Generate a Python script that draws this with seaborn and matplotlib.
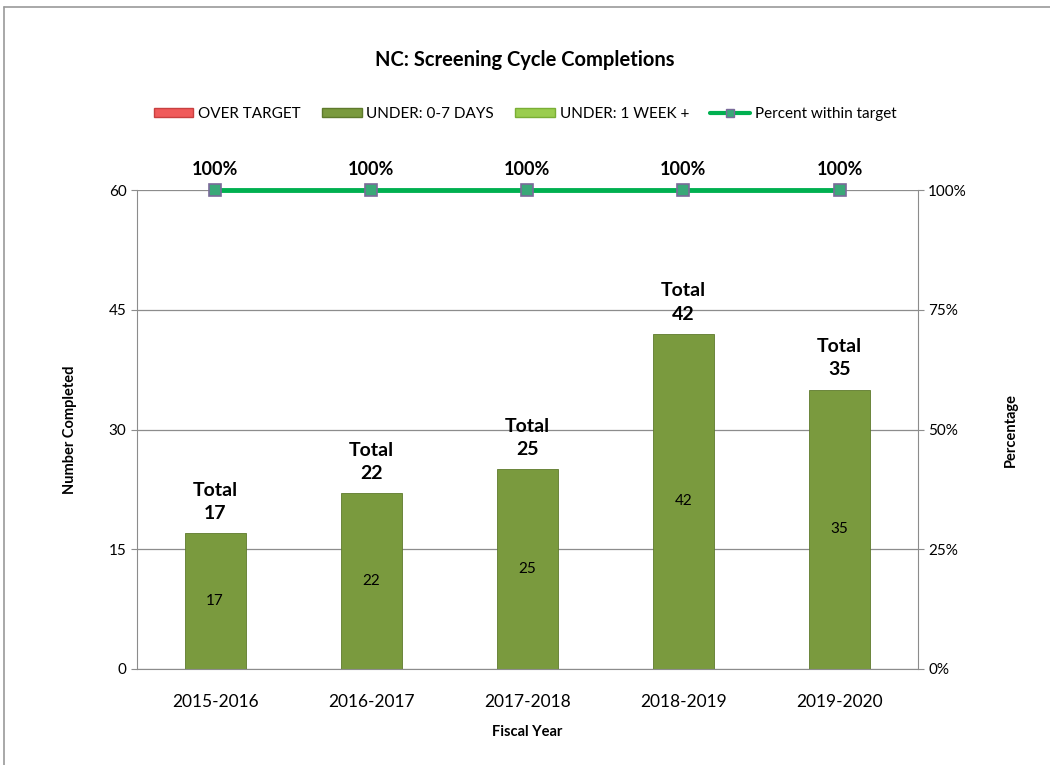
import pandas as pd
import matplotlib.pyplot as plt
import seaborn as sns
from matplotlib.patches import Patch
from matplotlib.lines import Line2D

# Datos
years = ['2015-2016', '2016-2017', '2017-2018', '2018-2019', '2019-2020']
over_target = [0, 0, 0, 0, 0]
under_0_7 = [17, 22, 25, 42, 35]
under_1_week = [0, 0, 0, 0, 0]
pct_within = [100, 100, 100, 100, 100]

df = pd.DataFrame({'Fiscal Year': years, 'Under07': under_0_7,
                   'Total': [a + b + c for a, b, c in zip(over_target, under_0_7, under_1_week)],
                   'Pct': pct_within})

sns.set_style('white')
plt.rcParams['font.family'] = ['Lato', 'DejaVu Sans']
plt.rcParams['text.color'] = 'black'
plt.rcParams['axes.labelcolor'] = 'black'
plt.rcParams['xtick.color'] = 'black'
plt.rcParams['ytick.color'] = 'black'

c_over = '#F05A5A'
c_under = '#7A9A3E'
c_week = '#9ACD4E'
c_line = '#00B050'

fig = plt.figure(figsize=(10.5, 7.65), dpi=100)
ax = fig.add_axes([0.1305, 0.1255, 0.7435, 0.6261])

sns.barplot(data=df, x='Fiscal Year', y='Under07', color=c_under, width=0.39,
            edgecolor='#5E7A2C', linewidth=0.6, saturation=1, ax=ax)

ax.set_ylim(0, 60)
ax.set_yticks([0, 15, 30, 45, 60])
ax.yaxis.grid(True, color='#8C8C8C', linewidth=0.9)
ax.set_axisbelow(True)
for s in ['top', 'right']:
    ax.spines[s].set_visible(False)
ax.spines['left'].set_color('#8C8C8C')
ax.spines['bottom'].set_color('#8C8C8C')
ax.tick_params(axis='x', labelsize=12.5, length=0, pad=18, labelcolor='black')
ax.tick_params(axis='y', labelsize=11, length=4, color='#8C8C8C', left=True,
               labelcolor='black')
ax.set_xlabel('Fiscal Year', fontsize=10.5, fontweight='bold', labelpad=11)
ax.set_ylabel('Number Completed', fontsize=10.5, fontweight='bold', labelpad=23)

# Etiquetas dentro de las barras y totales
for i, (v, t) in enumerate(zip(df['Under07'], df['Total'])):
    ax.text(i, v / 2, str(v), ha='center', va='center', fontsize=11)
    ax.text(i, t + 1.4, f'Total\n{t}', ha='center', va='bottom', fontsize=14,
            fontweight='bold', linespacing=1.45)

# Eje secundario: porcentaje
ax2 = ax.twinx()
sns.lineplot(x=list(range(len(years))), y=df['Pct'], color=c_line, linewidth=3.5,
             marker='s', markersize=8, markerfacecolor='#3AA878',
             markeredgecolor='#7A6A9A', markeredgewidth=1.2, ax=ax2)
for ln in ax2.lines:
    ln.set_clip_on(False)
    ln.set_zorder(5)
ax2.set_ylim(0, 100)
ax2.set_yticks([0, 25, 50, 75, 100])
ax2.set_yticklabels([f'{v}%' for v in [0, 25, 50, 75, 100]])
ax2.tick_params(axis='y', labelsize=11, length=4, color='#8C8C8C', right=True,
                labelcolor='black')
ax2.set_ylabel('Percentage', fontsize=10.5, fontweight='bold', labelpad=27)
ax2.spines['right'].set_color('#8C8C8C')
for s in ['top', 'left', 'bottom']:
    ax2.spines[s].set_visible(False)
ax2.set_xlim(-0.5, len(years) - 0.5)
for i, p in enumerate(df['Pct']):
    ax2.text(i, p + 2.6, f'{p}%', ha='center', va='bottom', fontsize=13, fontweight='bold')

fig.text(0.5, 0.921, 'NC: Screening Cycle Completions', ha='center', va='center',
         fontsize=14.5, fontweight='bold')

handles = [Patch(facecolor=c_over, edgecolor='#C84040'),
           Patch(facecolor=c_under, edgecolor='#5E7A2C'),
           Patch(facecolor=c_week, edgecolor='#7AAE35'),
           Line2D([0], [0], color=c_line, linewidth=3, marker='s', markersize=6,
                  markerfacecolor='#3AA878', markeredgecolor='#7A6A9A')]
labels = ['OVER TARGET', 'UNDER: 0-7 DAYS', 'UNDER: 1 WEEK +', 'Percent within target']
fig.legend(handles, labels, loc='center', bbox_to_anchor=(0.5, 0.851), ncol=4,
           frameon=False, fontsize=11, handlelength=2.6, handleheight=0.6,
           handletextpad=0.3, columnspacing=1.4)

# Marco del gráfico
fig.add_artist(Line2D([0.004, 1.0], [0.991, 0.991], transform=fig.transFigure,
                      color='#9A9A9A', linewidth=1.2))
fig.add_artist(Line2D([0.004, 0.004], [0.0, 0.991], transform=fig.transFigure,
                      color='#9A9A9A', linewidth=1.2))

plt.savefig('out.png', dpi=100)
